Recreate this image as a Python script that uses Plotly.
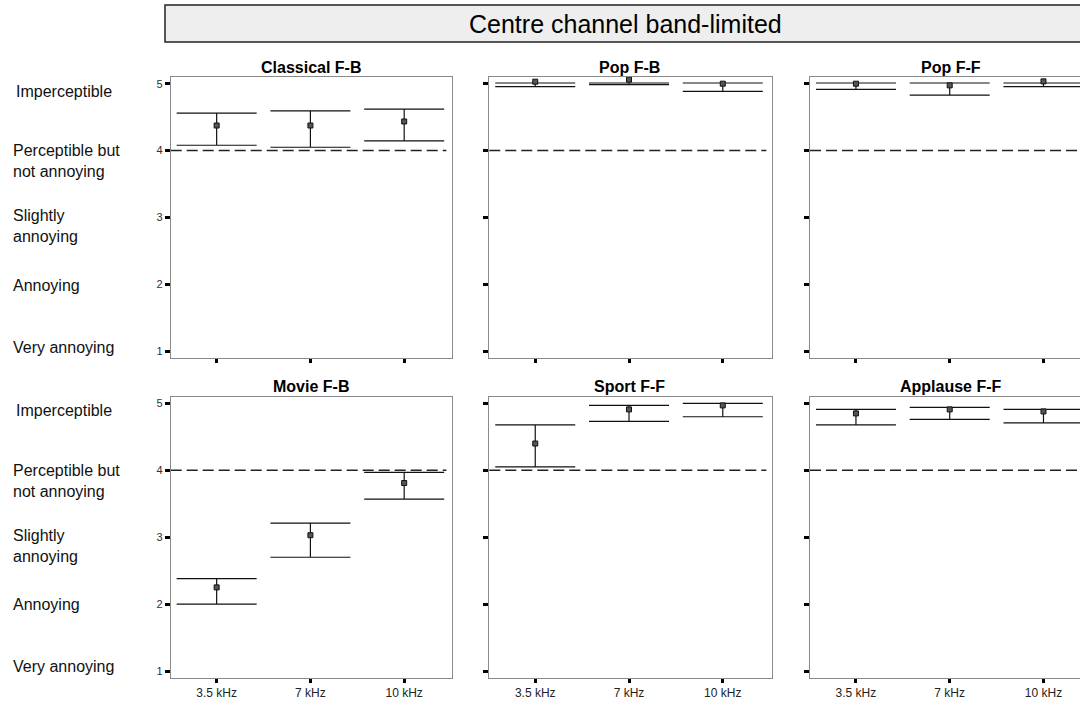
import plotly.graph_objects as go

# Test conditions and panels
categories = ["3.5 kHz", "7 kHz", "10 kHz"]
panel_titles = ["Classical F-B", "Pop F-B", "Pop F-F", "Movie F-B", "Sport F-F", "Applause F-F"]

# Mean grades and confidence limits per panel (one value per condition)
classical_fb_mean = [4.375, 4.375, 4.435]
classical_fb_low = [4.08, 4.05, 4.145]
classical_fb_high = [4.56, 4.595, 4.62]

pop_fb_mean = [5.03, 5.06, 5.0]
pop_fb_low = [4.955, 4.985, 4.885]
pop_fb_high = [5.01, 5.01, 5.01]

pop_ff_mean = [5.0, 4.975, 5.035]
pop_ff_low = [4.915, 4.83, 4.955]
pop_ff_high = [5.01, 5.01, 5.01]

movie_fb_mean = [2.25, 3.03, 3.81]
movie_fb_low = [2.0, 2.70, 3.57]
movie_fb_high = [2.38, 3.21, 3.97]

sport_ff_mean = [4.40, 4.91, 4.97]
sport_ff_low = [4.05, 4.73, 4.80]
sport_ff_high = [4.68, 4.97, 5.0]

applause_ff_mean = [4.85, 4.91, 4.88]
applause_ff_low = [4.68, 4.76, 4.71]
applause_ff_high = [4.91, 4.94, 4.91]

means = [classical_fb_mean, pop_fb_mean, pop_ff_mean, movie_fb_mean, sport_ff_mean, applause_ff_mean]
lows = [classical_fb_low, pop_fb_low, pop_ff_low, movie_fb_low, sport_ff_low, applause_ff_low]
highs = [classical_fb_high, pop_fb_high, pop_ff_high, movie_fb_high, sport_ff_high, applause_ff_high]

# Impairment scale
grade_values = [1, 2, 3, 4, 5]
grade_labels = ["Very annoying", "Annoying", "Slightly<br>annoying",
                "Perceptible but<br>not annoying", "Imperceptible"]
threshold = 4

chart_title = "Centre channel band-limited"

W, H = 1080, 702
FONT = "Liberation Sans, Arial, sans-serif"

col_px = [(170.7, 452.0), (489.3, 772.0), (810.0, 1080.0)]
row_px = [(77.0, 358.0), (396.7, 677.7)]
px_per_cat = 281.3 / 3.0
y_range = [0.9, 5.1]

fig = go.Figure()
layout = {}
shapes = []
annotations = []

for i, title in enumerate(panel_titles):
    r, c = divmod(i, 3)
    n = i + 1
    xname = "x" if n == 1 else f"x{n}"
    yname = "y" if n == 1 else f"y{n}"
    xkey = "xaxis" if n == 1 else f"xaxis{n}"
    ykey = "yaxis" if n == 1 else f"yaxis{n}"
    x0, x1 = col_px[c]
    t0, t1 = row_px[r]

    layout[xkey] = dict(
        domain=[x0 / W, x1 / W], anchor=yname, type="category",
        categoryorder="array", categoryarray=categories,
        range=[-0.49, -0.49 + (x1 - x0) / px_per_cat],
        showline=True, linecolor="#8a8a8a", linewidth=1, mirror=True,
        ticks="outside", ticklen=4, tickwidth=3, tickcolor="#000000",
        showticklabels=(r == 1), showgrid=False, zeroline=False,
        tickfont=dict(family=FONT, size=12, color="#222222"),
    )
    layout[ykey] = dict(
        domain=[1 - t1 / H, 1 - t0 / H], anchor=xname, range=y_range,
        tickvals=grade_values, ticktext=[str(v) for v in grade_values],
        showline=True, linecolor="#8a8a8a", linewidth=1, mirror=(c < 2),
        ticks="outside", ticklen=5, tickwidth=3, tickcolor="#000000",
        showticklabels=(c == 0), showgrid=False, zeroline=False,
        tickfont=dict(family=FONT, size=11, color="#333333"),
    )

    mean, low, high = means[i], lows[i], highs[i]
    # confidence interval bars hanging from the upper limit
    fig.add_trace(go.Scatter(
        x=categories, y=high, mode="markers", xaxis=xname, yaxis=yname,
        marker=dict(size=1, opacity=0),
        error_y=dict(type="data", symmetric=False,
                     array=[0] * len(high),
                     arrayminus=[h - l for h, l in zip(high, low)],
                     width=40, thickness=1.2, color="#111111"),
        showlegend=False, hoverinfo="skip", cliponaxis=False,
    ))
    # mean markers
    fig.add_trace(go.Scatter(
        x=categories, y=mean, mode="markers", xaxis=xname, yaxis=yname,
        marker=dict(symbol="square", size=5, color="#555555",
                    line=dict(color="#111111", width=1)),
        showlegend=False, cliponaxis=False,
    ))

    # threshold line at "perceptible but not annoying"
    shapes.append(dict(
        type="line", xref=f"{xname} domain", yref=yname,
        x0=0, x1=(0.98 if c < 2 else 1.0), y0=threshold, y1=threshold,
        line=dict(color="#222222", width=1.5, dash="11px,5px"), layer="below",
    ))

    # panel title
    annotations.append(dict(
        text=f"<b>{title}</b>", xref="paper", yref="paper",
        x=((x0 + (x0 + 281.3)) / 2) / W, y=1 - (t0 - 10) / H,
        xanchor="center", yanchor="middle", showarrow=False,
        font=dict(family=FONT, size=16, color="#000000"),
    ))

# scale descriptions on the left of each row
label_centres = [347, 285, 226, 161, 91]
label_left = [11, 11, 11, 11, 14]
for r in range(2):
    off = row_px[r][0] - row_px[0][0]
    for lab, yc, xl in zip(grade_labels, label_centres, label_left):
        annotations.append(dict(
            text=lab, xref="paper", yref="paper", x=xl / W, y=1 - (yc + off) / H,
            xanchor="left", yanchor="middle", align="left", showarrow=False,
            font=dict(family=FONT, size=16, color="#111111"),
        ))

# title box
shapes.append(dict(
    type="rect", xref="paper", yref="paper",
    x0=165 / W, x1=1.02, y0=1 - 42 / H, y1=1 - 5 / H,
    fillcolor="#eeeeee", line=dict(color="#222222", width=1.5), layer="below",
))
annotations.append(dict(
    text=chart_title, xref="paper", yref="paper", x=625 / W, y=1 - 24 / H,
    xanchor="center", yanchor="middle", showarrow=False,
    font=dict(family=FONT, size=25, color="#000000"),
))

fig.update_layout(
    width=W, height=H, margin=dict(l=0, r=0, t=0, b=0),
    paper_bgcolor="white", plot_bgcolor="white",
    shapes=shapes, annotations=annotations, showlegend=False,
    **layout,
)

fig.write_html("out.html")
